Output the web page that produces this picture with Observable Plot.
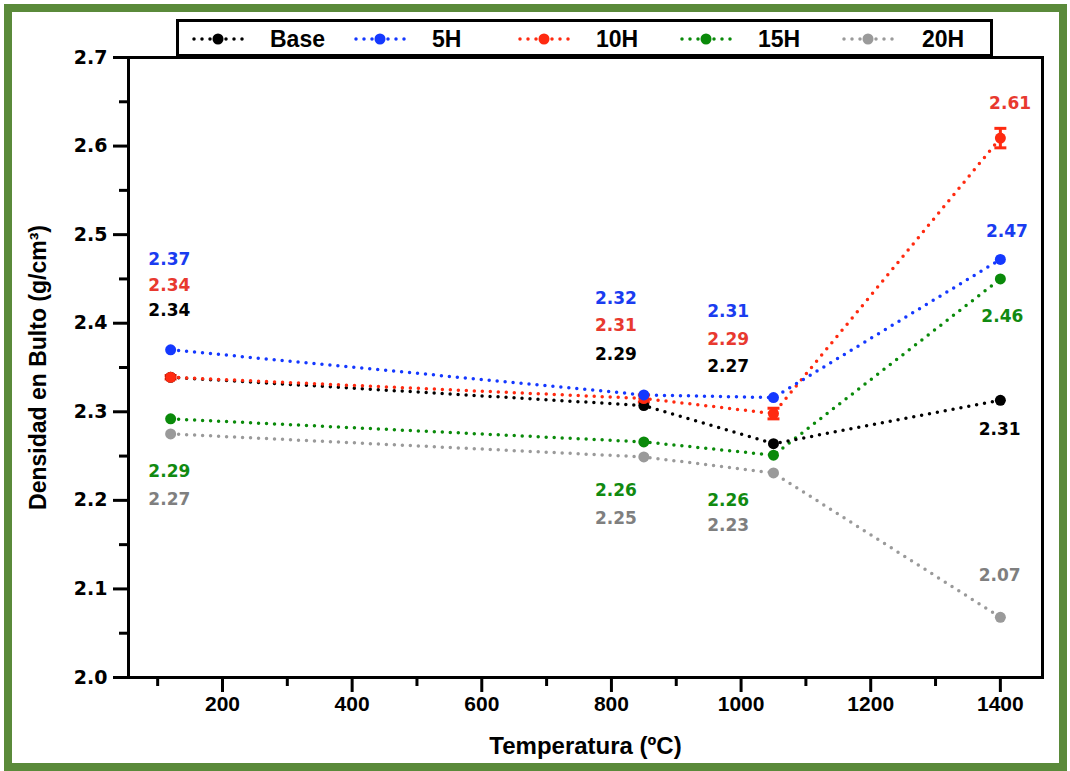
<!DOCTYPE html>
<html>
<head>
<meta charset="utf-8">
<script src="https://cdn.jsdelivr.net/npm/d3@7"></script>
<script src="https://cdn.jsdelivr.net/npm/@observablehq/plot@0.6"></script>
<style>
  html, body { margin: 0; padding: 0; background: #fff; }
  #wrap { position: relative; width: 1070px; height: 771px; overflow: hidden; }
  #frame { position: absolute; left: 4px; top: 4px; width: 1063px; height: 767px; box-sizing: border-box; border: 8px solid #5a8a3a; pointer-events: none; }
  #legend { position: absolute; left: 176px; top: 19px; }
  #chart { position: absolute; left: 0; top: 0; }
</style>
</head>
<body>
<div id="wrap">
  <div id="chart"></div>
  <div id="legend"></div>
  <div id="frame"></div>
</div>
<script>
// ---- data ----
const temperatures = [120, 850, 1050, 1400];
const seriesNames = ["Base", "5H", "10H", "15H", "20H"];
const lineColors = ["#000000", "#1438ff", "#ff2a10", "#0a8a0a", "#9a9a9a"];
const labelColors = ["#000000", "#1a3cf0", "#e8392f", "#118a11", "#7f7f7f"];

const baseValues = [2.339, 2.307, 2.264, 2.313];
const h5Values   = [2.370, 2.319, 2.316, 2.472];
const h10Values  = [2.339, 2.315, 2.298, 2.609];
const h15Values  = [2.292, 2.266, 2.251, 2.450];
const h20Values  = [2.275, 2.249, 2.231, 2.068];
const h10Errors  = [0.002, 0.004, 0.006, 0.011];

// annotation labels (text and anchor in data units: temperature, density)
const baseLabels = ["2.34", "2.29", "2.27", "2.31"];
const h5Labels   = ["2.37", "2.32", "2.31", "2.47"];
const h10Labels  = ["2.34", "2.31", "2.29", "2.61"];
const h15Labels  = ["2.29", "2.26", "2.26", "2.46"];
const h20Labels  = ["2.27", "2.25", "2.23", "2.07"];
const baseLabelX = [118, 807, 980, 1399];
const h5LabelX   = [118, 807, 980, 1410];
const h10LabelX  = [118, 807, 980, 1415];
const h15LabelX  = [118, 807, 980, 1403];
const h20LabelX  = [118, 807, 980, 1399];
const baseLabelY = [2.414, 2.365, 2.351, 2.280];
const h5LabelY   = [2.472, 2.428, 2.413, 2.504];
const h10LabelY  = [2.443, 2.397, 2.382, 2.648];
const h15LabelY  = [2.232, 2.211, 2.200, 2.407];
const h20LabelY  = [2.201, 2.179, 2.171, 2.115];

const yTicks = [2.0, 2.1, 2.2, 2.3, 2.4, 2.5, 2.6, 2.7];
const yMinorTicks = [2.05, 2.15, 2.25, 2.35, 2.45, 2.55, 2.65];
const xTicks = [200, 400, 600, 800, 1000, 1200, 1400];
const xMinorTicks = [100, 300, 500, 700, 900, 1100, 1300];

// ---- build tables ----
const allValues = [baseValues, h5Values, h10Values, h15Values, h20Values];
const allLabels = [baseLabels, h5Labels, h10Labels, h15Labels, h20Labels];
const allLabelX = [baseLabelX, h5LabelX, h10LabelX, h15LabelX, h20LabelX];
const allLabelY = [baseLabelY, h5LabelY, h10LabelY, h15LabelY, h20LabelY];

const rows = [];
const labelRows = [];
seriesNames.forEach((s, i) => {
  temperatures.forEach((t, j) => {
    rows.push({series: s, temp: t, value: allValues[i][j], color: lineColors[i]});
    labelRows.push({series: s, temp: allLabelX[i][j], value: allLabelY[i][j], text: allLabels[i][j], color: labelColors[i]});
  });
});
const errRows = temperatures.map((t, j) => ({temp: t, lo: h10Values[j] - h10Errors[j], hi: h10Values[j] + h10Errors[j]}));

// draw order: gray, green, black, red, blue
const order = ["20H", "15H", "Base", "10H", "5H"];
const ordered = order.flatMap(s => rows.filter(r => r.series === s));

const capSymbol = {
  draw(context, size) {
    const w = Math.sqrt(size) * 0.75;
    context.moveTo(-w, 0);
    context.lineTo(w, 0);
  }
};

const sans = "'Liberation Sans', Arial, sans-serif";
const wide = "'DejaVu Sans', sans-serif";

const chart = Plot.plot({
  width: 1070,
  height: 771,
  marginLeft: 128,
  marginRight: 28,
  marginTop: 57,
  marginBottom: 94,
  style: {background: "transparent", color: "#000"},
  x: {domain: [55, 1465]},
  y: {domain: [2.0, 2.7]},
  marks: [
    Plot.axisY(yTicks, {tickSize: 15, strokeWidth: 3, tickPadding: 6, tickFormat: d => d.toFixed(1), fontSize: 19, fontWeight: "bold", fontFamily: wide, label: null}),
    Plot.axisY(yMinorTicks, {tickSize: 9, strokeWidth: 3, text: null, label: null}),
    Plot.axisX(xTicks, {tickSize: 15, strokeWidth: 3, tickPadding: 4, tickFormat: d => String(d), fontSize: 21, fontWeight: "bold", fontFamily: sans, label: null}),
    Plot.axisX(xMinorTicks, {tickSize: 9, strokeWidth: 3, text: null, label: null}),
    Plot.text(["Densidad en Bulto (g/cm³)"], {frameAnchor: "left", textAnchor: "middle", rotate: -90, dx: -90, fontSize: 23, fontWeight: "bold", fontFamily: sans}),
    Plot.text(["Temperatura (ºC)"], {frameAnchor: "bottom", textAnchor: "middle", dy: 76, fontSize: 24, fontWeight: "bold", fontFamily: sans}),
    Plot.line(ordered, {x: "temp", y: "value", z: "series", stroke: "color", strokeWidth: 3.5, strokeDasharray: "0 8", strokeLinecap: "round"}),
    Plot.ruleX(errRows, {x: "temp", y1: "lo", y2: "hi", stroke: "#ff2a10", strokeWidth: 3}),
    Plot.dot(errRows, {x: "temp", y: "lo", symbol: capSymbol, r: 4.5, stroke: "#ff2a10", strokeWidth: 3}),
    Plot.dot(errRows, {x: "temp", y: "hi", symbol: capSymbol, r: 4.5, stroke: "#ff2a10", strokeWidth: 3}),
    Plot.dot(ordered, {x: "temp", y: "value", fill: "color", r: 5.5}),
    Plot.text(labelRows, {x: "temp", y: "value", text: "text", fill: "color", fontSize: 17, fontWeight: "bold", fontFamily: wide}),
    Plot.frame({strokeWidth: 3, stroke: "#000"})
  ]
});
document.getElementById("chart").appendChild(chart);

// ---- legend ----
const legendW = 817, legendH = 38;
const iconX = [42, 204, 368, 530, 692];
const textX = [94, 256, 420, 582, 746];
const ns = "http://www.w3.org/2000/svg";
const svg = document.createElementNS(ns, "svg");
svg.setAttribute("width", legendW);
svg.setAttribute("height", legendH);
const box = document.createElementNS(ns, "rect");
box.setAttribute("x", 1.5); box.setAttribute("y", 1.5);
box.setAttribute("width", legendW - 3); box.setAttribute("height", legendH - 3);
box.setAttribute("fill", "#fff"); box.setAttribute("stroke", "#000"); box.setAttribute("stroke-width", 3);
svg.appendChild(box);
seriesNames.forEach((s, i) => {
  const cy = legendH / 2 + 1;
  const ln = document.createElementNS(ns, "line");
  ln.setAttribute("x1", iconX[i] - 24); ln.setAttribute("x2", iconX[i] + 26);
  ln.setAttribute("y1", cy); ln.setAttribute("y2", cy);
  ln.setAttribute("stroke", lineColors[i]); ln.setAttribute("stroke-width", 3.5);
  ln.setAttribute("stroke-dasharray", "0 8"); ln.setAttribute("stroke-linecap", "round");
  svg.appendChild(ln);
  const c = document.createElementNS(ns, "circle");
  c.setAttribute("cx", iconX[i]); c.setAttribute("cy", cy); c.setAttribute("r", 5.5);
  c.setAttribute("fill", lineColors[i]);
  svg.appendChild(c);
  const tx = document.createElementNS(ns, "text");
  tx.setAttribute("x", textX[i]); tx.setAttribute("y", cy);
  tx.setAttribute("dy", "0.35em");
  tx.setAttribute("font-family", sans);
  tx.setAttribute("font-weight", "bold");
  tx.setAttribute("font-size", 23);
  tx.textContent = s;
  svg.appendChild(tx);
});
document.getElementById("legend").appendChild(svg);
</script>
</body>
</html>
